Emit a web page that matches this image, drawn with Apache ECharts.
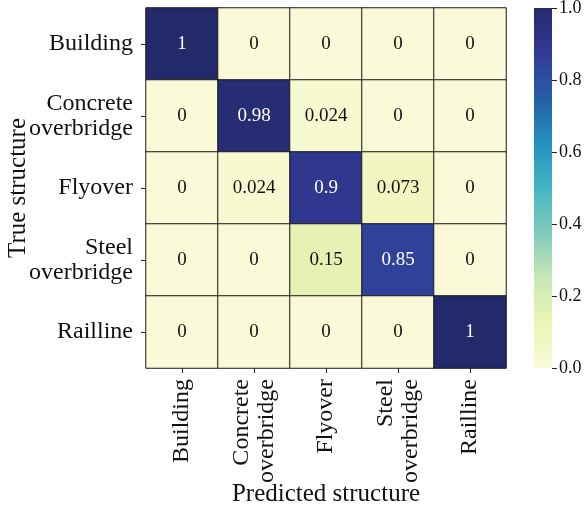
<!DOCTYPE html>
<html>
<head>
<meta charset="utf-8">
<script src="https://cdn.jsdelivr.net/npm/echarts@6/dist/echarts.min.js"></script>
<style>
  html, body { margin: 0; padding: 0; background: #fff; }
  #chart { width: 584px; height: 508px; }
</style>
</head>
<body>
<div id="chart"></div>
<script>
// Confusion matrix of structure classes (rows: true, columns: predicted)
const classes = ['Building', 'Concrete\noverbridge', 'Flyover', 'Steel\noverbridge', 'Railline'];
const rowBuilding = [1, 0, 0, 0, 0];
const rowConcrete = [0, 0.98, 0.024, 0, 0];
const rowFlyover = [0, 0.024, 0.9, 0.073, 0];
const rowSteel = [0, 0, 0.15, 0.85, 0];
const rowRailline = [0, 0, 0, 0, 1];
const colorbarTicks = [0, 0.2, 0.4, 0.6, 0.8, 1.0];

// YlGnBu-style palette, low to high
const palette = ['#fafad8', '#ecf5b3', '#c8e8b5', '#80cbbb', '#45b5c3', '#2391bf', '#255fa6', '#333a96', '#232a6c'];

const rows = [rowBuilding, rowConcrete, rowFlyover, rowSteel, rowRailline];
const cells = [];
rows.forEach((row, y) => row.forEach((v, x) => cells.push([x, y, v])));

const FONT = "'Liberation Serif', 'Times New Roman', serif";
const chart = echarts.init(document.getElementById('chart'));

const gradStops = palette.map((c, i) => ({ offset: 1 - i / (palette.length - 1), color: c }));

chart.setOption({
  animation: false,
  textStyle: { fontFamily: FONT },
  grid: [
    { left: 146, top: 8, width: 360, height: 360, containLabel: false, outerBoundsMode: 'none' },
    { left: 534, top: 8, width: 18, height: 360, containLabel: false, outerBoundsMode: 'none' }
  ],
  xAxis: [
    {
      type: 'category', data: classes, gridIndex: 0,
      axisLine: { show: false },
      axisTick: { show: true, alignWithLabel: true, length: 5, lineStyle: { color: '#222' } },
      axisLabel: { rotate: 90, margin: 11, fontSize: 24, color: '#111', fontFamily: FONT, lineHeight: 25 },
      splitLine: { show: false },
      name: 'Predicted structure', nameLocation: 'middle', nameGap: 114, nameMoveOverlap: false,
      nameTextStyle: { fontSize: 25, color: '#111', fontFamily: FONT }
    },
    { type: 'category', data: ['c'], gridIndex: 1, show: false }
  ],
  yAxis: [
    {
      type: 'category', data: classes, gridIndex: 0, inverse: true,
      axisLine: { show: false },
      axisTick: { show: true, alignWithLabel: true, length: 5, lineStyle: { color: '#222' } },
      axisLabel: { margin: 13, fontSize: 24, color: '#111', fontFamily: FONT, lineHeight: 25, align: 'right' },
      splitLine: { show: false },
      name: 'True structure', nameLocation: 'middle', nameGap: 115, nameRotate: 90, nameMoveOverlap: false,
      nameTextStyle: { fontSize: 25, color: '#111', fontFamily: FONT }
    },
    {
      type: 'value', gridIndex: 1, min: 0, max: 1, interval: 0.2, position: 'right',
      axisLine: { show: false },
      axisTick: { show: true, length: 5, lineStyle: { color: '#222' } },
      axisLabel: { margin: 7, fontSize: 18, color: '#111', fontFamily: FONT, formatter: v => v.toFixed(1) },
      splitLine: { show: false }
    }
  ],
  visualMap: {
    show: false, min: 0, max: 1, seriesIndex: 0, dimension: 2,
    inRange: { color: palette }
  },
  series: [
    {
      type: 'heatmap', xAxisIndex: 0, yAxisIndex: 0,
      data: cells.map(c => ({
        value: c,
        label: { color: c[2] > 0.5 ? '#ffffff' : '#111111' }
      })),
      itemStyle: { borderColor: '#1a1a1a', borderWidth: 1 },
      label: {
        show: true, fontSize: 19, fontFamily: FONT,
        formatter: p => String(p.value[2])
      },
      emphasis: { disabled: true }
    },
    {
      type: 'bar', xAxisIndex: 1, yAxisIndex: 1, barWidth: '100%',
      data: [colorbarTicks[colorbarTicks.length - 1]],
      itemStyle: { color: new echarts.graphic.LinearGradient(0, 0, 0, 1, gradStops) },
      silent: true
    }
  ]
});
</script>
</body>
</html>
